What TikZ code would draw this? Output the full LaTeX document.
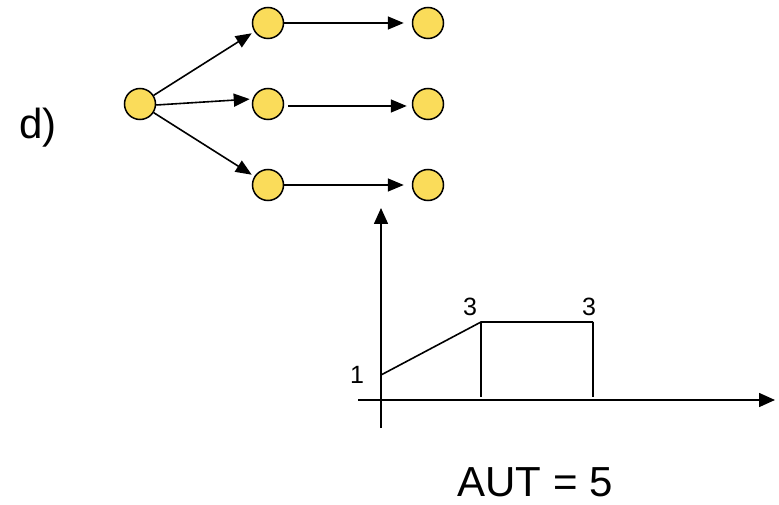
\documentclass[tikz,border=0pt]{standalone}
\usepackage{fontspec}
\setmainfont{Liberation Sans}
\usetikzlibrary{arrows.meta}
\definecolor{dotfill}{RGB}{250,220,90}
\begin{document}
\begin{tikzpicture}[x=1pt,y=-1pt,
  dot/.style={circle,draw=black,line width=1.5pt,fill=dotfill,minimum size=31pt,inner sep=0pt},
  link/.style={line width=1.6pt,-{Triangle[length=16pt,width=13pt]}},
  plotline/.style={line width=1.6pt},
  axis/.style={line width=1.6pt,-{Triangle[length=16pt,width=14pt]}},
  big/.style={font=\fontsize{42}{42}\selectfont,inner sep=0pt},
  small/.style={font=\fontsize{25}{25}\selectfont,inner sep=0pt}]
\useasboundingbox (0,0) rectangle (779,505);

% tree of states
\node[dot] (r)  at (140,104) {};
\node[dot] (a1) at (268,23)  {};
\node[dot] (b1) at (268,104) {};
\node[dot] (c1) at (268,185) {};
\node[dot] (a2) at (428,23)  {};
\node[dot] (b2) at (428,104) {};
\node[dot] (c2) at (428,185) {};

\draw[link,shorten >=3pt] (r) -- (a1);
\draw[link,shorten >=2pt] ([yshift=-1pt]r.east) -- ([yshift=5pt]b1.west);
\draw[link,shorten >=3pt] (r) -- (c1);
\draw[link,shorten >=8pt] (a1) -- (a2);
\draw[link,shorten <=4pt,shorten >=5pt] ([yshift=-2pt]b1.east) -- ([yshift=-2pt]b2.west);
\draw[link,shorten >=8pt] (c1) -- (c2);

\node[big] (lbl) at (38,128) {d)};

% time chart
\coordinate (o)  at (381,400);
\coordinate (yb) at (381,428);
\coordinate (yt) at (381,208);
\coordinate (xl) at (358,400);
\coordinate (xr) at (775,400);
\coordinate (p0) at (381,375);
\coordinate (p1) at (481,322);
\coordinate (p2) at (593,322);
\coordinate (q1) at (481,397);
\coordinate (q2) at (593,397);

\draw[axis] (yb) -- (yt);
\draw[axis] (xl) -- (xr);
\draw[plotline] (p0) -- (p1) -- (p2);
\draw[plotline] (p1) -- (q1);
\draw[plotline] (p2) -- (q2);

\node[small] (v0) at (357,375) {1};
\node[small] (v1) at (470,307) {3};
\node[small] (v2) at (589,307) {3};

\node[big] (aut) at (535,482) {AUT = 5};
\end{tikzpicture}
\end{document}
